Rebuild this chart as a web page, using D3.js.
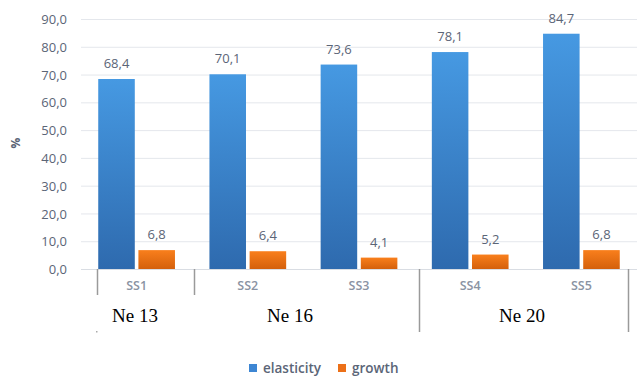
<!DOCTYPE html>
<html><head><meta charset="utf-8">
<script src="https://cdn.jsdelivr.net/npm/d3@7"></script>
<style>body{margin:0;background:#fff}</style>
</head><body><svg id="c" width="644" height="378"></svg>
<script>
const categories = ["SS1","SS2","SS3","SS4","SS5"];
const elasticity = [68.4,70.1,73.6,78.1,84.7];
const growth = [6.8,6.4,4.1,5.2,6.8];
const seriesNames = ["elasticity","growth"];
const groups = [{label:"Ne 13", from:0, to:0},{label:"Ne 16", from:1, to:2},{label:"Ne 20", from:3, to:4}];
const yTicks = [0,10,20,30,40,50,60,70,80,90];

const svg = d3.select("#c");
const plotB = 269;
const x = d3.scaleBand().domain(categories).range([81,637]).paddingInner(0.31).paddingOuter(0.155);
const x1 = d3.scaleBand().domain(seriesNames).range([0, x.bandwidth()]).paddingInner(0.09);
const y = d3.scaleLinear().domain([0,90]).range([plotB, 19]);
const fmt = v => d3.format(".1f")(v).replace(".", ",");

const defs = svg.append("defs");
const gb = defs.append("linearGradient").attr("id","gb").attr("x1",0).attr("y1",0).attr("x2",0).attr("y2",1);
gb.append("stop").attr("offset","0%").attr("stop-color","#4699e2");
gb.append("stop").attr("offset","100%").attr("stop-color","#2e6aae");
const go = defs.append("linearGradient").attr("id","go").attr("x1",0).attr("y1",0).attr("x2",0).attr("y2",1);
go.append("stop").attr("offset","0%").attr("stop-color","#f97f1c");
go.append("stop").attr("offset","100%").attr("stop-color","#d4600c");

// grid
svg.append("g").selectAll("line").data(yTicks.filter(d=>d>0)).join("line")
  .attr("x1",81).attr("x2",637).attr("y1",d=>y(d)+0.5).attr("y2",d=>y(d)+0.5)
  .attr("stroke","#e4e7ec").attr("stroke-width",1);

// y axis labels
const yAxis = d3.axisLeft(y).tickValues(yTicks).tickFormat(fmt).tickSize(0).tickPadding(0);
const ya = svg.append("g").attr("transform","translate(67,0)").call(yAxis);
ya.select(".domain").remove();
ya.selectAll("text").attr("font-family","'Open Sans', sans-serif").attr("font-size","13px").attr("fill","#5b6577").attr("dy","0.35em");

svg.append("text").attr("transform","translate(20,143) rotate(-90)").attr("text-anchor","middle")
  .attr("font-family","'Open Sans', sans-serif").attr("font-size","12px").attr("font-weight","bold").attr("fill","#5b6577").text("%");

// bars
const data = categories.map((c,i)=>({c, vals:[{s:"elasticity",v:elasticity[i]},{s:"growth",v:growth[i]}]}));
const g = svg.append("g").selectAll("g").data(data).join("g").attr("transform",d=>`translate(${x(d.c)},0)`);
g.selectAll("rect").data(d=>d.vals).join("rect")
  .attr("x",d=>x1(d.s)).attr("width",x1.bandwidth())
  .attr("y",d=>y(d.v)).attr("height",d=>plotB-y(d.v))
  .attr("fill",d=>d.s==="elasticity"?"url(#gb)":"url(#go)");
g.selectAll("text").data(d=>d.vals).join("text")
  .attr("x",d=>x1(d.s)+x1.bandwidth()/2).attr("y",d=>y(d.v)-11)
  .attr("text-anchor","middle").attr("font-family","'Open Sans', sans-serif").attr("font-size","13px")
  .attr("fill","#5b6577").text(d=>fmt(d.v));

// baseline
svg.append("line").attr("x1",81).attr("x2",637).attr("y1",plotB+0.5).attr("y2",plotB+0.5).attr("stroke","#d9dde3");

// category labels
const xa = svg.append("g").attr("transform",`translate(0,${plotB})`).call(d3.axisBottom(x).tickSize(0).tickPadding(12));
xa.select(".domain").remove();
xa.selectAll("text").attr("font-family","'Open Sans', sans-serif").attr("font-size","12.5px").attr("font-weight","600").attr("fill","#8a93a3");

// separator lines
const half = (x.step() - x.bandwidth())/2;
const sepX = [x("SS1") - half + 16, x("SS2") - half + 2, x("SS4") - half + 4, x("SS5") + x.bandwidth() + 8];
const sepLen = [295, 295, 332, 332];
svg.append("g").selectAll("line").data(sepX).join("line")
  .attr("x1",d=>Math.round(d)+0.5).attr("x2",d=>Math.round(d)+0.5)
  .attr("y1",plotB).attr("y2",(d,i)=>sepLen[i]).attr("stroke","#9a9a9a").attr("stroke-width",1.5);
svg.append("rect").attr("x",96).attr("y",331).attr("width",1.5).attr("height",1.5).attr("fill","#aaa");

// group labels
const gx = [135, 290, 522];
svg.append("g").selectAll("text").data(groups).join("text")
  .attr("x",(d,i)=>gx[i]).attr("y",322).attr("text-anchor","middle")
  .attr("font-family","'Liberation Serif', 'Times New Roman', serif").attr("font-size","19px").attr("fill","#000")
  .text(d=>d.label);

// legend
const legX = [249, 338];
const lg = svg.append("g").selectAll("g").data(seriesNames).join("g").attr("transform",(d,i)=>`translate(${legX[i]},364)`);
lg.append("rect").attr("width",8).attr("height",8).attr("fill",(d,i)=>i===0?"#3d86d3":"#ec7018");
lg.append("text").attr("x",14).attr("y",4).attr("dy","0.35em").attr("font-family","'Open Sans', sans-serif").attr("font-size","13.5px").attr("font-weight","600")
  .attr("fill","#5b6577").text(d=>d);
</script></body></html>
